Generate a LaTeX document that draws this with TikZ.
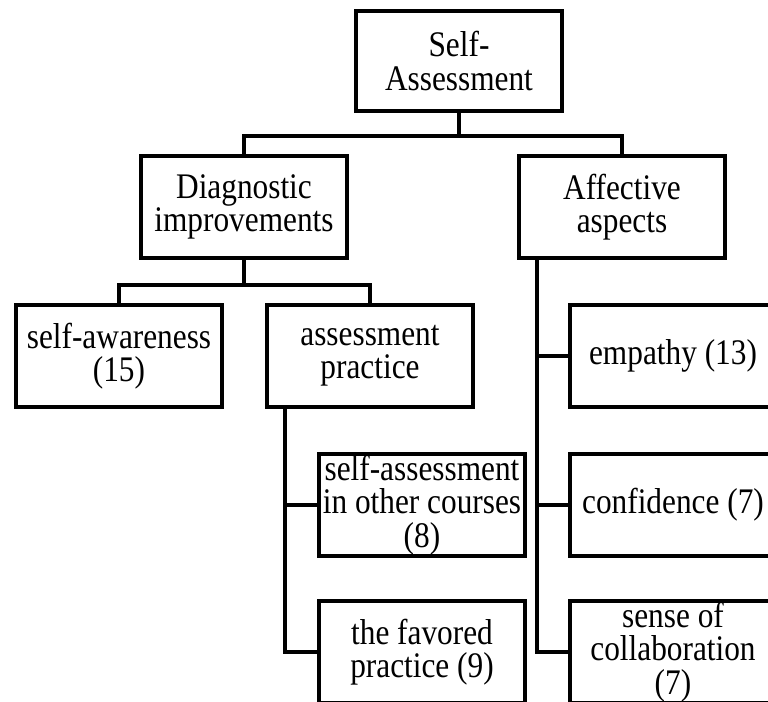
\documentclass[tikz,border=0pt]{standalone}
\usepackage{fontspec}
\setmainfont{Liberation Serif}[FakeStretch=0.87]
\begin{document}
\begin{tikzpicture}[x=0.5pt,y=-0.5pt,line width=2pt,line join=miter,
	font=\fontsize{18}{16.6}\selectfont,
	hop/.style={draw,rectangle,align=center,inner sep=0pt,minimum width=103pt,minimum height=51pt}]
			\clip (0,0) rectangle (768,702);
			% cac o
			\node[hop,minimum height=50pt] (root) at (459,61) {Self-\\Assessment};
			\node[hop] (diag) at (244,207) {Diagnostic\\improvements};
			\node[hop] (affect) at (622,207) {Affective\\aspects};
			\node[hop] (aware) at (119,356) {self-awareness\\(15)};
			\node[hop] (practice) at (370,356) {assessment\\practice};
			\node[hop] (other) at (422,505) {self-assessment\\in other courses\\(8)};
			\node[hop] (favored) at (422,652) {the favored\\practice (9)};
			\node[hop] (empathy) at (673,356) {empathy (13)};
			\node[hop] (confid) at (673,505) {confidence (7)};
			\node[hop] (collab) at (673,652) {sense of\\collaboration\\(7)};
			% noi cac o
			\draw (root.south) -- ++(0,23) coordinate (r1);
			\draw (diag.north) |- (r1) -| (affect.north);
			\draw (diag.south) -- ++(0,25) coordinate (d1);
			\draw (aware.north) |- (d1) -| (practice.north);
			\coordinate (pbus) at ([xshift=10pt]practice.south west);
			\draw (pbus) |- (favored.west);
			\draw (pbus |- other.west) -- (other.west);
			\coordinate (abus) at ([xshift=10pt]affect.south west);
			\draw (abus) |- (collab.west);
			\draw (abus |- empathy.west) -- (empathy.west);
			\draw (abus |- confid.west) -- (confid.west);
\end{tikzpicture}
\end{document}
